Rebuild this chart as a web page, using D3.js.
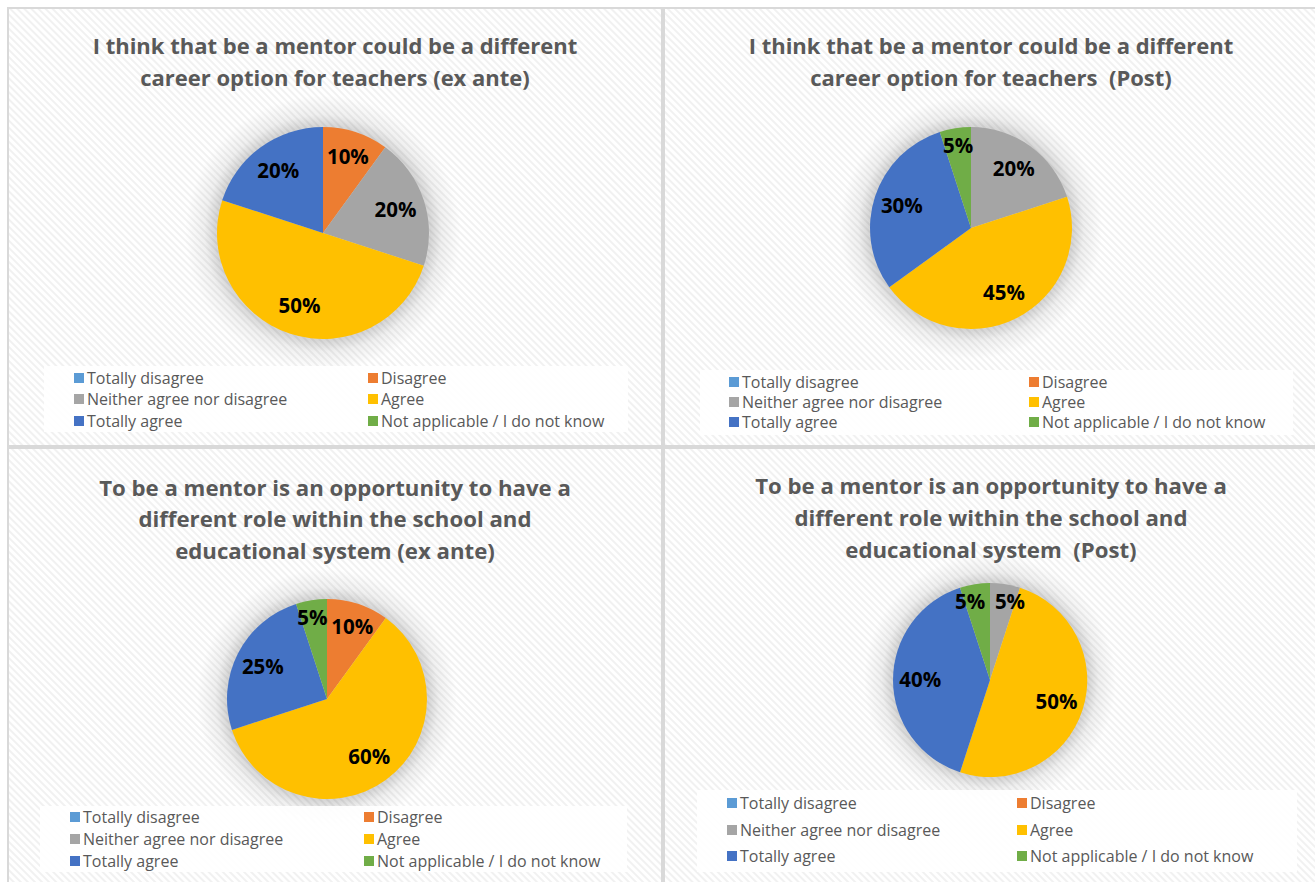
<!DOCTYPE html>
<html>
<head>
<meta charset="utf-8">
<script src="https://cdn.jsdelivr.net/npm/d3@7"></script>
<style>
  body { margin: 0; background: #fff; }
  svg { display: block; }
  text { white-space: pre; }
</style>
</head>
<body>
<svg id="chart" width="1315" height="882"></svg>
<script>
// answer categories, same order for every pie
var categories = ["Totally disagree", "Disagree", "Neither agree nor disagree", "Agree", "Totally agree", "Not applicable / I do not know"];
var colors = ["#5B9BD5", "#ED7D31", "#A5A5A5", "#FFC000", "#4472C4", "#70AD47"];

// percentage of answers per category
var careerExAnte = [0, 10, 20, 50, 20, 0];
var careerPost   = [0, 0, 20, 45, 30, 5];
var roleExAnte   = [0, 10, 0, 60, 25, 5];
var rolePost     = [0, 0, 5, 50, 40, 5];

var titleCareerExAnte = ["I think that be a mentor could be a different", "career option for teachers (ex ante)"];
var titleCareerPost   = ["I think that be a mentor could be a different", "career option for teachers  (Post)"];
var titleRoleExAnte   = ["To be a mentor is an opportunity to have a", "different role within the school and", "educational system (ex ante)"];
var titleRolePost     = ["To be a mentor is an opportunity to have a", "different role within the school and", "educational system  (Post)"];

// where each panel sits on the page
var panels = [
  {values: careerExAnte, title: titleCareerExAnte, x: 8, y: 8, w: 654, h: 438,
   titleY: [46, 78], titleW: 485, cx: 323, cy: 233, r: 106,
   legend: {x: 44, y: 366, w: 584, h: 66, rows: [378, 399, 421], col1: 74, col2: 368}},
  {values: careerPost, title: titleCareerPost, x: 664, y: 8, w: 660, h: 438,
   titleY: [46, 78], titleW: 485, cx: 971, cy: 228, r: 101,
   legend: {x: 700, y: 370, w: 593, h: 65, rows: [382, 402, 422], col1: 729, col2: 1029}},
  {values: roleExAnte, title: titleRoleExAnte, x: 8, y: 448, w: 654, h: 440,
   titleY: [488, 519, 551], titleW: 472, cx: 327, cy: 699, r: 100,
   legend: {x: 40, y: 806, w: 587, h: 66, rows: [817, 839, 861], col1: 70, col2: 364}},
  {values: rolePost, title: titleRolePost, x: 664, y: 448, w: 660, h: 440,
   titleY: [486, 518, 550], titleW: 472, cx: 990, cy: 680, r: 97,
   legend: {x: 697, y: 790, w: 600, h: 82, rows: [803, 830, 856], col1: 727, col2: 1017}}
];

var svg = d3.select("#chart");
var defs = svg.append("defs");

var pat = defs.append("pattern")
  .attr("id", "stripes")
  .attr("width", 5).attr("height", 5)
  .attr("patternUnits", "userSpaceOnUse")
  .attr("patternTransform", "rotate(-45)");
pat.append("rect").attr("width", 5).attr("height", 5).attr("fill", "#ffffff");
pat.append("rect").attr("width", 2).attr("height", 5).attr("fill", "#f1f1f1");

var glow = defs.append("radialGradient").attr("id", "glow");
glow.append("stop").attr("offset", "0.78").attr("stop-color", "#000").attr("stop-opacity", 0.16);
glow.append("stop").attr("offset", "0.86").attr("stop-color", "#000").attr("stop-opacity", 0.06);
glow.append("stop").attr("offset", "1").attr("stop-color", "#000").attr("stop-opacity", 0);

var color = d3.scaleOrdinal().domain(categories).range(colors);
var pie = d3.pie().sort(null).value(function(d) { return d.value; });

panels.forEach(function(p) {
  var g = svg.append("g");

  g.append("rect")
    .attr("x", p.x).attr("y", p.y)
    .attr("width", p.w).attr("height", p.h)
    .attr("fill", "url(#stripes)")
    .attr("stroke", "#d9d9d9")
    .attr("stroke-width", 2);

  // title, sized so the first line matches the original width
  var cxPanel = p.x + 327;
  var title = g.append("g")
    .style("font-family", "'Open Sans', 'Noto Sans', sans-serif")
    .style("font-weight", "bold")
    .style("fill", "#595959");
  var lines = title.selectAll("text")
    .data(p.title)
    .enter()
    .append("text")
    .attr("x", cxPanel)
    .attr("y", function(d, i) { return p.titleY[i]; })
    .attr("dy", "0.35em")
    .attr("text-anchor", "middle")
    .style("font-size", "20px")
    .text(function(d) { return d; });
  var w0 = lines.node().getComputedTextLength();
  lines.style("font-size", (20 * p.titleW / w0) + "px");

  // soft shadow around the pie
  g.append("circle")
    .attr("cx", p.cx).attr("cy", p.cy)
    .attr("r", p.r * 1.3)
    .attr("fill", "url(#glow)");

  var data = categories.map(function(c, i) { return {name: c, value: p.values[i]}; });
  var arcs = pie(data);
  var arc = d3.arc().innerRadius(0).outerRadius(p.r);

  var pg = g.append("g").attr("transform", "translate(" + p.cx + "," + p.cy + ")");
  pg.selectAll("path")
    .data(arcs)
    .enter()
    .append("path")
    .attr("d", arc)
    .attr("fill", function(d) { return color(d.data.name); });

  // label positions, small slices further out, then push apart if they collide
  var labels = arcs.filter(function(d) { return d.data.value > 0; }).map(function(d) {
    var k = d.data.value <= 5 ? 0.82 : (d.data.value <= 10 ? 0.76 : 0.72);
    var c = d3.arc().innerRadius(p.r * k).outerRadius(p.r * k).centroid(d);
    return {d: d, x: c[0], y: c[1]};
  });
  for (var i = 0; i < labels.length; i++) {
    for (var j = i + 1; j < labels.length; j++) {
      var a = labels[i], b = labels[j];
      var dx = b.x - a.x;
      if (Math.abs(dx) < 40 && Math.abs(b.y - a.y) < 20) {
        var push = (40 - Math.abs(dx)) / 2 * (dx >= 0 ? 1 : -1);
        a.x -= push; b.x += push;
      }
    }
  }

  pg.selectAll("text")
    .data(labels)
    .enter()
    .append("text")
    .attr("x", function(l) { return l.x; })
    .attr("y", function(l) { return l.y; })
    .attr("dy", "0.35em")
    .attr("text-anchor", "middle")
    .style("font-family", "'Open Sans', 'Noto Sans', sans-serif")
    .style("font-weight", "bold")
    .style("font-size", "20.5px")
    .style("fill", "#000")
    .text(function(l) { return l.d.data.value + "%"; });

  // legend
  var L = p.legend;
  g.append("rect")
    .attr("x", L.x).attr("y", L.y)
    .attr("width", L.w).attr("height", L.h)
    .attr("fill", "#ffffff")
    .attr("fill-opacity", 0.9);

  var items = g.selectAll(".leg")
    .data(categories)
    .enter()
    .append("g")
    .attr("transform", function(d, i) {
      var x = i % 2 === 0 ? L.col1 : L.col2;
      return "translate(" + x + "," + L.rows[Math.floor(i / 2)] + ")";
    });
  items.append("rect")
    .attr("x", 0).attr("y", -5)
    .attr("width", 10).attr("height", 10)
    .attr("fill", function(d) { return color(d); });
  items.append("text")
    .attr("x", 13)
    .attr("dy", "0.35em")
    .style("font-family", "'Open Sans', 'Noto Sans', sans-serif")
    .style("font-size", "16px")
    .style("fill", "#595959")
    .text(function(d) { return d; });
});
</script>
</body>
</html>
